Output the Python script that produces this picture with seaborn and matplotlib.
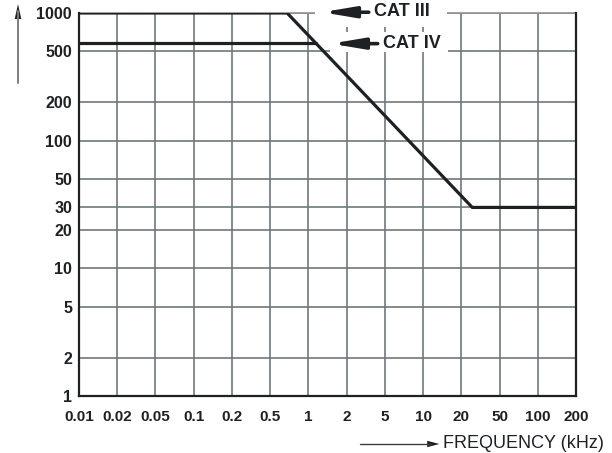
import numpy as np
import pandas as pd
import seaborn as sns
import matplotlib.pyplot as plt
from matplotlib.patches import Rectangle

# ---------------------------------------------------------------------------
# data
# ---------------------------------------------------------------------------
freq_ticks = [0.01, 0.02, 0.05, 0.1, 0.2, 0.5, 1, 2, 5, 10, 20, 50, 100, 200]
freq_labels = ["0.01", "0.02", "0.05", "0.1", "0.2", "0.5", "1", "2", "5",
               "10", "20", "50", "100", "200"]
volt_ticks = [1, 2, 5, 10, 20, 30, 50, 100, 200, 500, 1000]
volt_labels = [str(v) for v in volt_ticks]

cat3_freq = [0.01, 0.68, 26, 200]
cat3_volt = [1000, 1000, 30, 30]
cat4_freq = [0.01, 1.15]
cat4_volt = [580, 580]

# ---------------------------------------------------------------------------
# x scale : tick values are evenly spaced (piecewise log between ticks)
# ---------------------------------------------------------------------------
_lt = np.log10(freq_ticks)
_idx = np.arange(len(freq_ticks), dtype=float)
_lt_ext = np.concatenate([[_lt[0] - 20], _lt, [_lt[-1] + 20]])
_idx_ext = np.concatenate([[_idx[0] - 20 / (_lt[1] - _lt[0])], _idx,
                           [_idx[-1] + 20 / (_lt[-1] - _lt[-2])]])


def fwd(x):
    x = np.clip(np.asarray(x, dtype=float), 1e-15, None)
    return np.interp(np.log10(x), _lt_ext, _idx_ext)


def inv(i):
    return 10 ** np.interp(np.asarray(i, dtype=float), _idx_ext, _lt_ext)


sns.set_style("white")
plt.rcParams["font.family"] = ["Liberation Sans", "DejaVu Sans"]

fig = plt.figure(figsize=(6.12, 4.53), dpi=100)
ax = fig.add_axes([79 / 612, 57 / 453, 497 / 612, 383 / 453])

df = pd.concat([
    pd.DataFrame({"f": cat3_freq, "v": cat3_volt, "cat": "CAT III"}),
    pd.DataFrame({"f": cat4_freq, "v": cat4_volt, "cat": "CAT IV"}),
])
sns.lineplot(data=df, x="f", y="v", units="cat", estimator=None, sort=False,
             color="#1e2124", linewidth=2.3, ax=ax, zorder=3)

ax.set_xscale("function", functions=(fwd, inv))
ax.set_yscale("log")
ax.set_xlim(freq_ticks[0], freq_ticks[-1])
ax.set_ylim(volt_ticks[0], volt_ticks[-1])
ax.set_xticks(freq_ticks)
ax.set_xticklabels(freq_labels)
ax.set_yticks(volt_ticks)
ax.set_yticklabels(volt_labels)
ax.minorticks_off()
ax.tick_params(axis="x", length=0, pad=10, labelsize=11)
ax.tick_params(axis="y", length=0, pad=5, labelsize=11.5)
for t in ax.get_xticklabels() + ax.get_yticklabels():
    t.set_fontweight("bold")
    t.set_color("#1e2124")
ax.set_xlabel("")
ax.set_ylabel("")
ax.grid(True, color="#6f787d", linewidth=1.2)
ax.set_axisbelow(True)

for side in ["left", "bottom", "right"]:
    ax.spines[side].set_color("#1e2124")
    ax.spines[side].set_linewidth(1.6)
ax.spines["top"].set_color("#8d9497")
ax.spines["top"].set_linewidth(1.2)
ax.spines["top"].set_zorder(1)

# white boxes behind the labels
ax.add_patch(Rectangle((0.475, 0.963), 0.266, 0.08, transform=ax.transAxes,
                       facecolor="white", edgecolor="none", zorder=1.5,
                       clip_on=False))
ax.add_patch(Rectangle((0.505, 0.898), 0.238, 0.052, transform=ax.transAxes,
                       facecolor="white", edgecolor="none", zorder=1.5,
                       clip_on=False))

arrow = dict(arrowstyle="-|>,head_length=1.9,head_width=0.32",
             color="#1e2124", lw=2.6, shrinkA=0, shrinkB=0)
ax.annotate("", xy=(0.489, 1.002), xytext=(0.583, 1.002),
            xycoords="axes fraction", arrowprops=arrow, zorder=4)
ax.text(0.594, 1.003, "CAT III", transform=ax.transAxes, ha="left",
        va="center", fontsize=13, fontweight="bold", color="#1e2124",
        zorder=4)
ax.annotate("", xy=(0.507, 0.920), xytext=(0.601, 0.920),
            xycoords="axes fraction", arrowprops=arrow, zorder=4)
ax.text(0.611, 0.920, "CAT IV", transform=ax.transAxes, ha="left",
        va="center", fontsize=13, fontweight="bold", color="#1e2124",
        zorder=4)

# axis arrows
fig.add_artist(plt.Line2D([0.0294, 0.0294], [0.817, 0.975],
                          transform=fig.transFigure, color="#7d7d7d", lw=1.4))
fig.patches.append(plt.Polygon([[0.0294, 0.991], [0.0240, 0.958], [0.0348, 0.958]],
                               closed=True, transform=fig.transFigure,
                               facecolor="#1e2124", edgecolor="none"))
fig.add_artist(plt.Line2D([0.588, 0.705], [0.0199, 0.0199],
                          transform=fig.transFigure, color="#3a3d40", lw=1.0))
fig.patches.append(plt.Polygon([[0.718, 0.0199], [0.698, 0.0270], [0.698, 0.0128]],
                               closed=True, transform=fig.transFigure,
                               facecolor="#1e2124", edgecolor="none"))
fig.text(0.724, 0.022, "FREQUENCY (kHz)", ha="left", va="center",
         fontsize=13, color="#1e2124")

fig.savefig("out.png", dpi=100)
